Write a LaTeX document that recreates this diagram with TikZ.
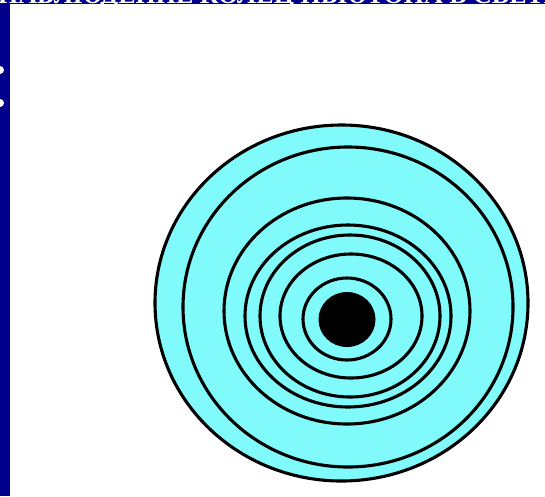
\documentclass[tikz,border=0pt]{standalone}
\usepackage{fontspec}
\setmainfont{Liberation Serif}
\definecolor{navy}{RGB}{0,0,140}
\definecolor{ringfill}{RGB}{128,250,250}
\tikzset{
  band/.style={fill=navy, draw=none},
  ring/.style={draw=black, line width=3.1pt},
  dot/.style={fill=white, draw=none},
}
\begin{document}
\begin{tikzpicture}[x=1pt,y=-1pt]
\useasboundingbox (0,0) rectangle (545,496);
\begin{scope}
\clip (0,0) rectangle (545,496);
% bands
\fill[band] (0,0) rectangle (545,4);
\fill[band] (0,0) rectangle (10,496);
% clipped title text
\begin{scope}
\clip (0,0) rectangle (545,3.5);
\node[anchor=base west, text=white, font=\bfseries\fontsize{26}{26}\selectfont, inner sep=0pt] (title) at (-2,3) {НАБЛЮДЕНИЕ КОЛЕЦ НЬЮТОНА В СВЕТЕ};
\end{scope}
% bullet fragments
\fill[dot] (0,70) circle (4);
\fill[dot] (0,103) circle (4);
% rings
\filldraw[ring, fill=ringfill] (341.5,303) ellipse (186.5 and 178);
\draw[ring] (348,307) ellipse (165 and 160);
\draw[ring] (347,311) ellipse (123 and 113);
\draw[ring] (348,316) ellipse (103 and 91);
\draw[ring] (350,316) ellipse (90 and 81);
\draw[ring] (351,316) ellipse (71 and 62);
\draw[ring] (347,319) ellipse (44 and 41);
\fill[black] (347,319.5) ellipse (28.5 and 27.5);
\end{scope}
\end{tikzpicture}
\end{document}
